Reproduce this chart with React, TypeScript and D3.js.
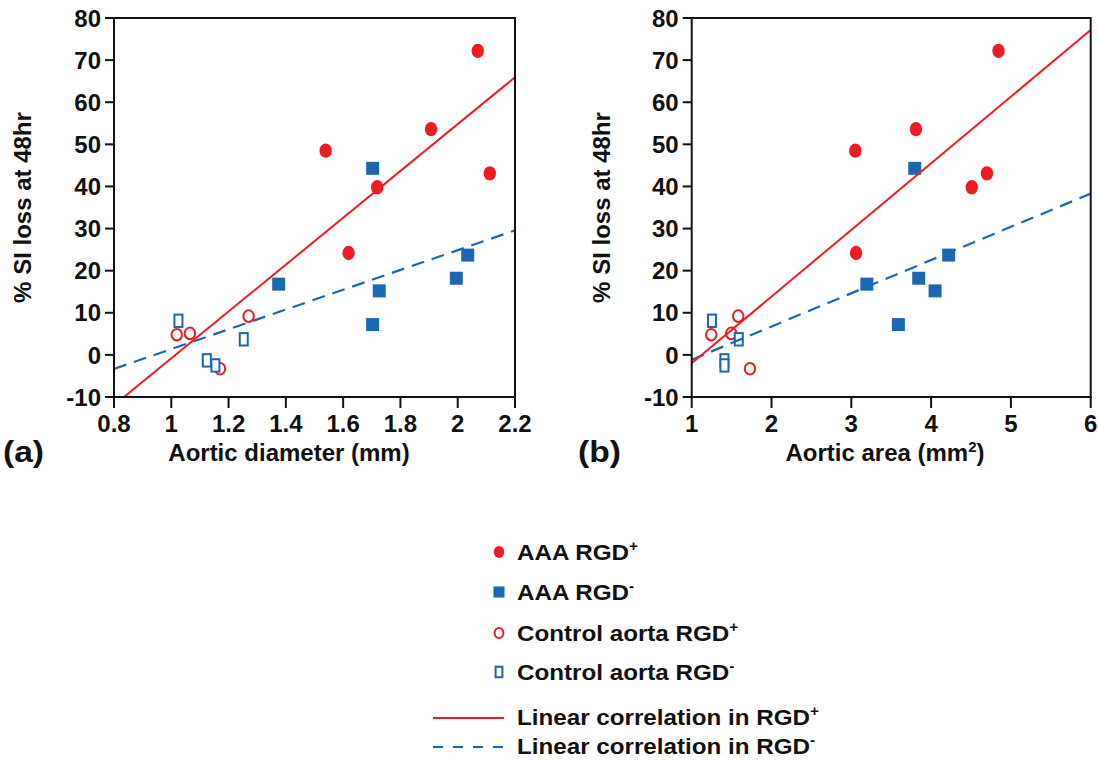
import React from 'react';
import * as d3 from 'd3';

// tick values
const lossTicks = [-10, 0, 10, 20, 30, 40, 50, 60, 70, 80];
const diameterTicks = [0.8, 1, 1.2, 1.4, 1.6, 1.8, 2, 2.2];
const areaTicks = [1, 2, 3, 4, 5, 6];

// AAA RGD+ (filled red circles)
const aaaPosLoss = [48.5, 72.2, 53.6, 39.8, 43.1, 24.2];
const aaaPosDiameter = [1.539, 2.07, 1.907, 1.719, 2.112, 1.619];
const aaaPosArea = [3.05, 4.845, 3.81, 4.51, 4.7, 3.06];

// AAA RGD- (filled blue squares)
const aaaNegLoss = [44.3, 16.8, 15.2, 7.2, 18.2, 23.7];
const aaaNegDiameter = [1.703, 1.375, 1.726, 1.703, 1.995, 2.035];
const aaaNegArea = [3.795, 3.195, 4.05, 3.59, 3.845, 4.22];

// Control aorta RGD+ (open red circles)
const ctrlPosLoss = [4.8, 5.1, 9.2, -3.3];
const ctrlPosDiameter = [1.019, 1.065, 1.27, 1.17];
const ctrlPosArea = [1.245, 1.495, 1.583, 1.73];

// Control aorta RGD- (open blue squares)
const ctrlNegLoss = [8.1, -1.3, -2.5, 3.7];
const ctrlNegDiameter = [1.025, 1.124, 1.154, 1.253];
const ctrlNegArea = [1.254, 1.41, 1.41, 1.59];

const RED = '#ec1c24';
const BLUE = '#1b67b2';
const FONT = '"Liberation Sans", Arial, sans-serif';

const TOP = 18;
const BOTTOM = 397;

// least squares fit
function fit(xs: number[], ys: number[]) {
  const mx = d3.mean(xs) as number;
  const my = d3.mean(ys) as number;
  let sxy = 0, sxx = 0;
  xs.forEach((x, i) => {
    sxy += (x - mx) * (ys[i] - my);
    sxx += (x - mx) * (x - mx);
  });
  const slope = sxy / sxx;
  return (x: number) => my + slope * (x - mx);
}

function Marker({ kind, cx, cy, legend }: any) {
  const k = legend ? 0.85 : 1;
  if (kind === 'fc') return <ellipse cx={cx} cy={cy} rx={6.2 * k} ry={7.2 * k} fill={RED} />;
  if (kind === 'fs') return <rect x={cx - 6.5 * k} y={cy - 6.5 * k} width={13 * k} height={13 * k} fill={BLUE} />;
  if (kind === 'oc') return <ellipse cx={cx} cy={cy} rx={5.2 * k} ry={5.8 * k} fill="white" stroke={RED} strokeWidth={2} />;
  return <rect x={cx - 4 * k} y={cy - 6.2 * k} width={8 * k} height={12.4 * k} fill="white" stroke={BLUE} strokeWidth={2} />;
}

function Panel({ id, left, right, domain, ticks, xs, title, letter, letterX, titleX, ylabelX }: any) {
  const x = d3.scaleLinear().domain(domain).range([left, right]);
  const y = d3.scaleLinear().domain([-10, 80]).range([BOTTOM, TOP]);

  const groups = [
    { kind: 'oc', xv: xs[2], yv: ctrlPosLoss },
    { kind: 'os', xv: xs[3], yv: ctrlNegLoss },
    { kind: 'fs', xv: xs[1], yv: aaaNegLoss },
    { kind: 'fc', xv: xs[0], yv: aaaPosLoss },
  ];

  const fPos = fit([...xs[0], ...xs[2]], [...aaaPosLoss, ...ctrlPosLoss]);
  const fNeg = fit([...xs[1], ...xs[3]], [...aaaNegLoss, ...ctrlNegLoss]);
  const pathFor = (f: (v: number) => number) =>
    d3.line<number>().x(d => x(d)).y(d => y(f(d)))(domain) as string;

  return (
    <g fontFamily={FONT} fontWeight="bold">
      <clipPath id={'clip-' + id}>
        <rect x={left} y={TOP} width={right - left} height={BOTTOM - TOP} />
      </clipPath>

      {groups.map(g =>
        g.xv.map((v: number, i: number) => (
          <Marker key={g.kind + i} kind={g.kind} cx={x(v)} cy={y(g.yv[i])} />
        ))
      )}

      <g clipPath={`url(#clip-${id})`}>
        <path d={pathFor(fNeg)} stroke={BLUE} strokeWidth={2.2} strokeDasharray="13,8" fill="none" />
        <path d={pathFor(fPos)} stroke={RED} strokeWidth={2} fill="none" />
      </g>

      <rect x={left} y={TOP} width={right - left} height={BOTTOM - TOP} fill="none" stroke="#111" strokeWidth={2} />

      {lossTicks.map(t => (
        <g key={'y' + t}>
          <line x1={left - 9} x2={left} y1={y(t)} y2={y(t)} stroke="#111" strokeWidth={2} />
          <text x={left - 13} y={y(t)} dy="0.36em" textAnchor="end" fontSize={24} fill="#111">{t}</text>
        </g>
      ))}
      {ticks.map((t: number) => (
        <g key={'x' + t}>
          <line x1={x(t)} x2={x(t)} y1={BOTTOM} y2={BOTTOM + 11} stroke="#111" strokeWidth={2} />
          <text x={x(t)} y={BOTTOM + 35} textAnchor="middle" fontSize={24} fill="#111">{t}</text>
        </g>
      ))}

      <text transform={`translate(${ylabelX},${(TOP + BOTTOM) / 2}) rotate(-90)`} textAnchor="middle"
        fontSize={24} fill="#111">% SI loss at 48hr</text>
      <text x={titleX} y={461} textAnchor="middle" fontSize={24} fill="#111">{title}</text>
      <text transform={`translate(${letterX},462) scale(1.12,1)`} fontSize={30} fill="#111">{letter}</text>
    </g>
  );
}

const sup = (s: string) => <tspan fontSize={14} dy={-9}>{s}</tspan>;

function Legend() {
  const rows = [
    { kind: 'fc', y: 552, label: 'AAA RGD', s: '+' },
    { kind: 'fs', y: 592, label: 'AAA RGD', s: '-' },
    { kind: 'oc', y: 633, label: 'Control aorta RGD', s: '+' },
    { kind: 'os', y: 672, label: 'Control aorta RGD', s: '-' },
  ];
  const lines = [
    { y: 718, color: RED, dash: undefined, s: '+' },
    { y: 747, color: BLUE, dash: '10,10', s: '-' },
  ];
  return (
    <g fontFamily={FONT} fontWeight="bold" fill="#111">
      {rows.map(r => (
        <g key={r.label + r.s}>
          <Marker kind={r.kind} cx={499} cy={r.y} legend />
          <text transform={`translate(517,${r.y + 8}) scale(1.1,1)`} fontSize={22}>
            {r.label}{sup(r.s)}
          </text>
        </g>
      ))}
      {lines.map(l => (
        <g key={l.y}>
          <line x1={433} x2={504} y1={l.y} y2={l.y} stroke={l.color} strokeWidth={2} strokeDasharray={l.dash} />
          <text transform={`translate(517,${l.y + 7}) scale(1.1,1)`} fontSize={22}>
            Linear correlation in RGD{sup(l.s)}
          </text>
        </g>
      ))}
    </g>
  );
}

export default function App() {
  return (
    <svg width={1098} height={761} style={{ position: 'absolute', left: 0, top: 0, background: 'white' }}>
      <rect width={1098} height={761} fill="white" />
      <Panel id="a" left={114} right={515} domain={[0.8, 2.2]} ticks={diameterTicks}
        xs={[aaaPosDiameter, aaaNegDiameter, ctrlPosDiameter, ctrlNegDiameter]}
        title="Aortic diameter (mm)" letter="(a)" letterX={3} titleX={289} ylabelX={31} />
      <Panel id="b" left={691.7} right={1090.7} domain={[1, 6]} ticks={areaTicks}
        xs={[aaaPosArea, aaaNegArea, ctrlPosArea, ctrlNegArea]}
        title={<>Aortic area (mm<tspan fontSize={15} dy={-9}>2</tspan><tspan dy={9}>)</tspan></>}
        letter="(b)" letterX={578} titleX={885} ylabelX={610} />
      <Legend />
    </svg>
  );
}
